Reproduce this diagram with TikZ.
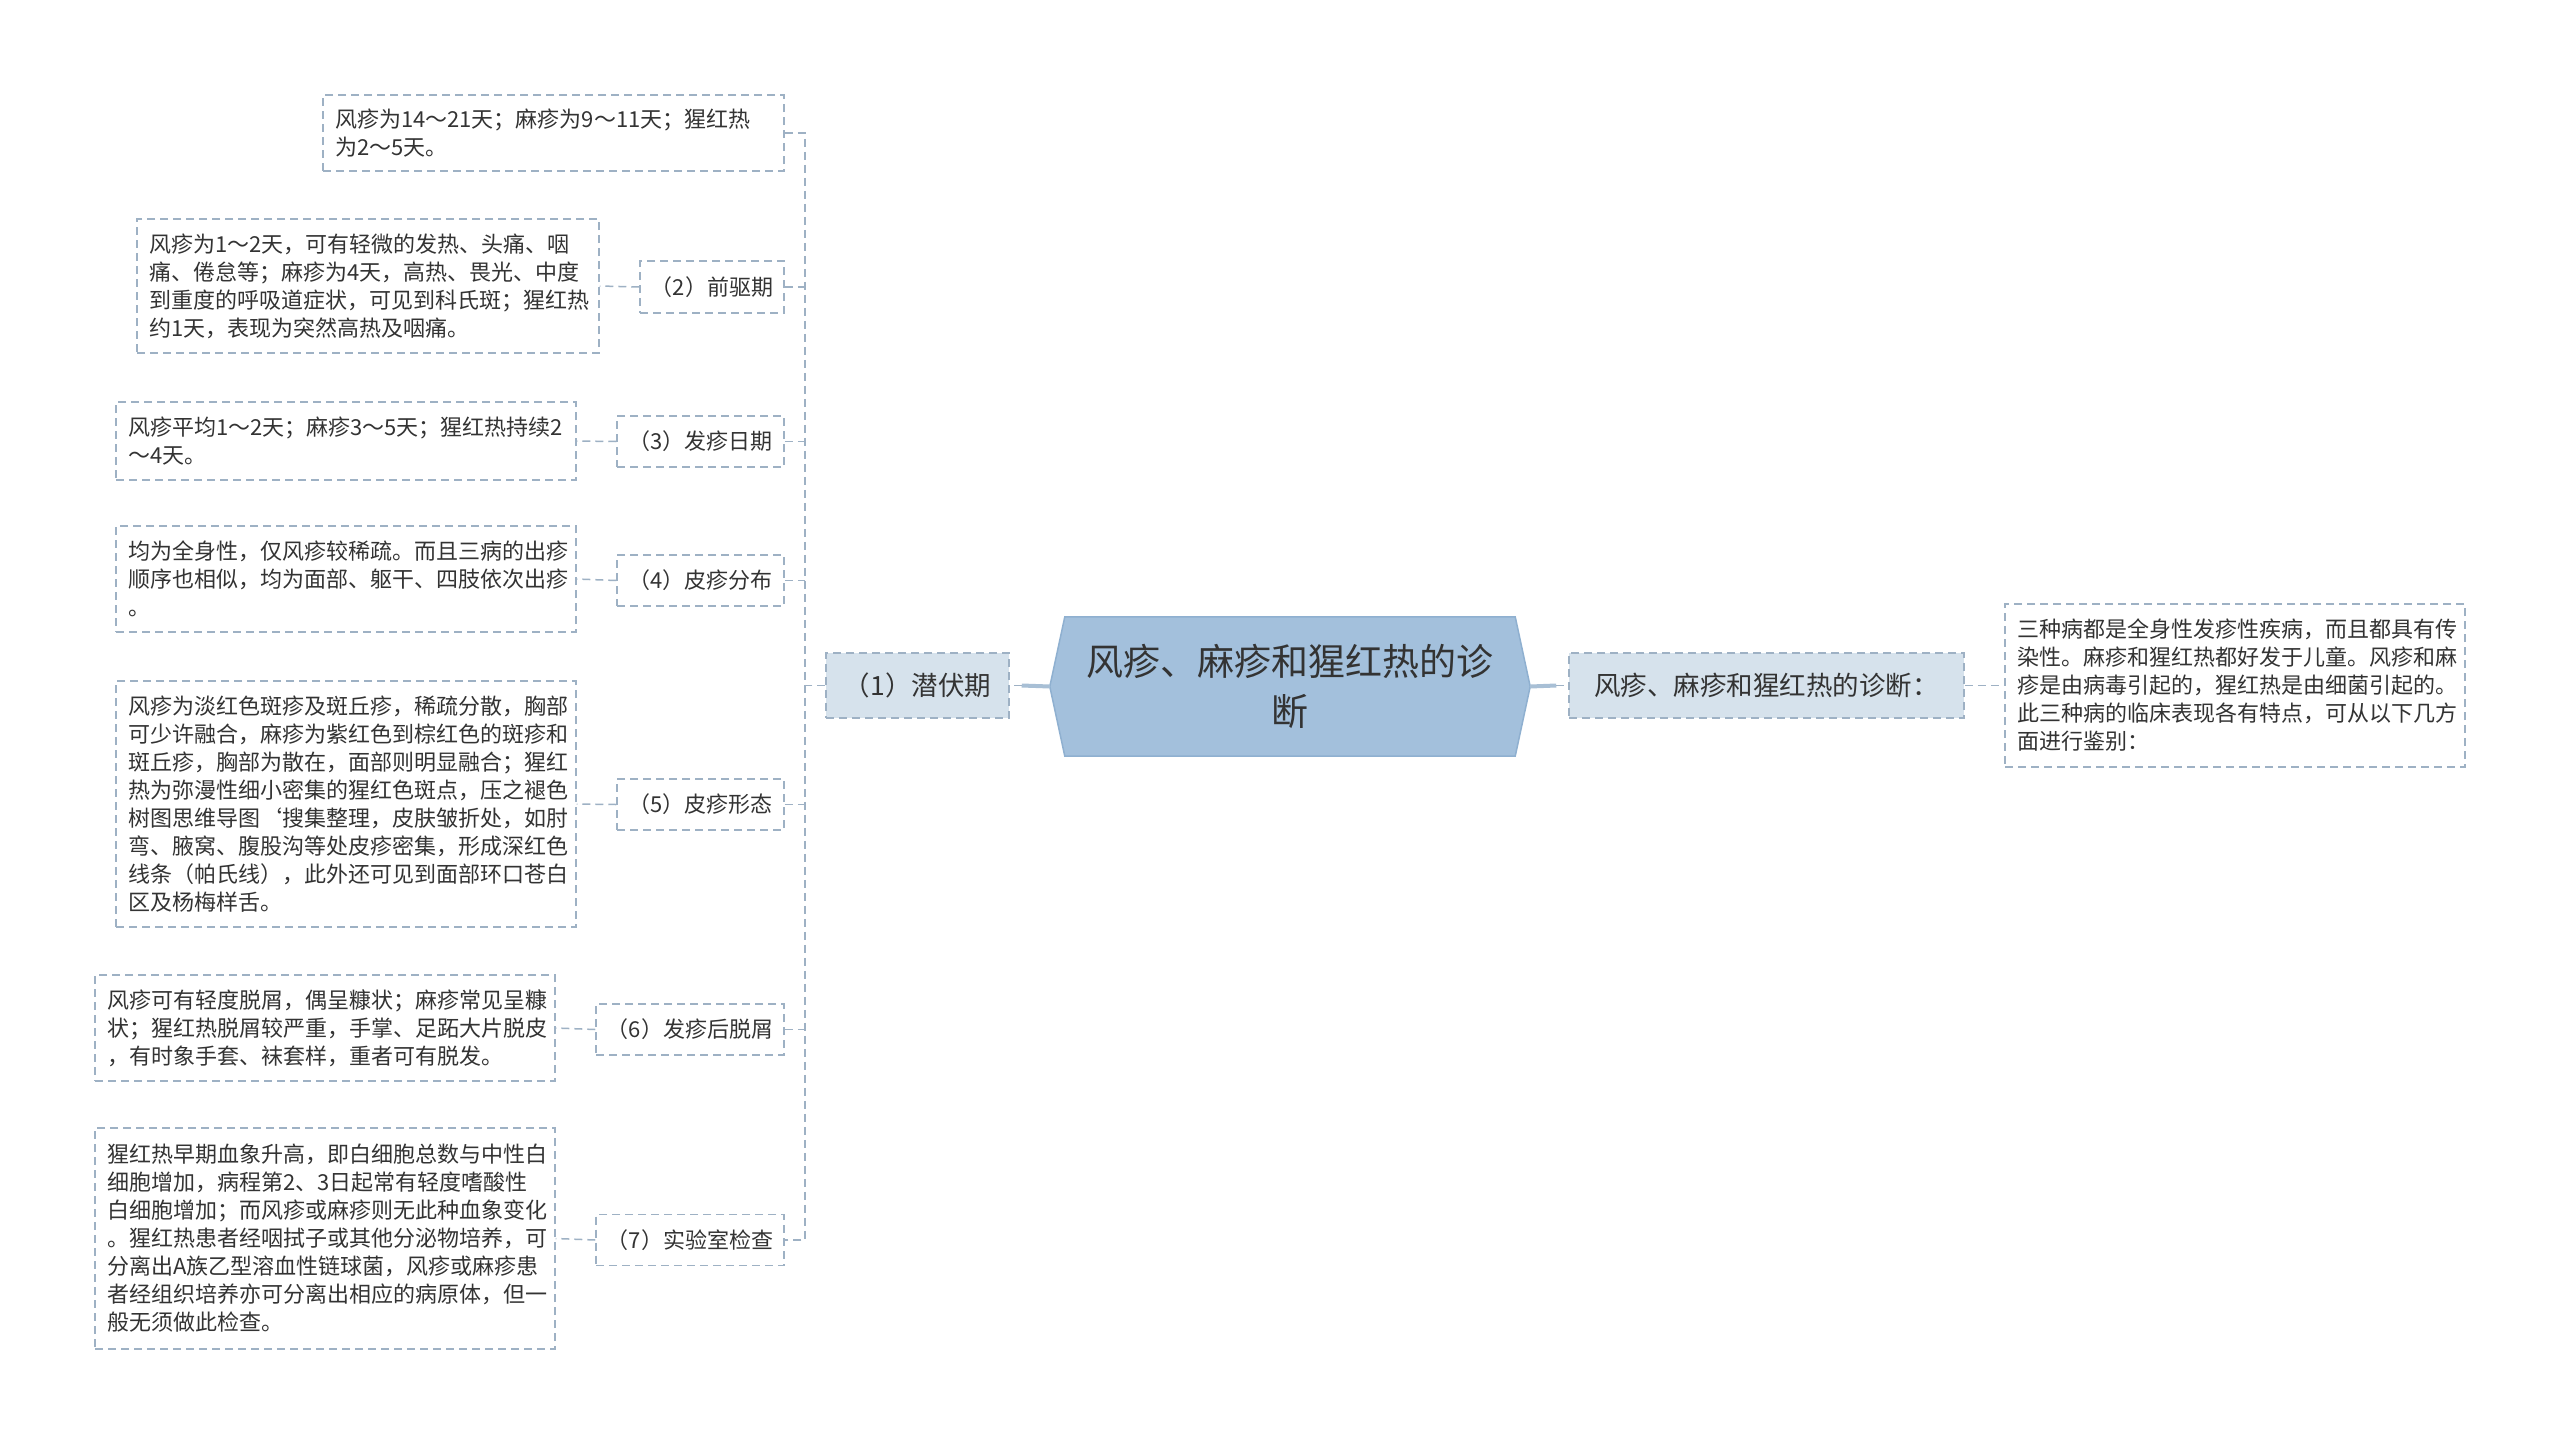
\documentclass[tikz,border=0pt]{standalone}
\usepackage{fontspec}
\setmainfont{Noto Sans CJK SC}
\usetikzlibrary{backgrounds}
\definecolor{txt}{HTML}{333333}
\definecolor{dashc}{HTML}{9EB1C4}
\definecolor{rootfill}{HTML}{A3C0DC}
\definecolor{rootdraw}{HTML}{8FB0D0}
\definecolor{lvfill}{HTML}{D6E2EC}
\definecolor{thickc}{HTML}{A8BFD5}
\begin{document}
\begin{tikzpicture}[x=1pt,y=-1pt,
  dashln/.style={draw=dashc,line width=1.5pt,dash pattern=on 8pt off 5pt},
  infobox/.style={dashln,text=txt,align=left,inner xsep=12pt,inner ysep=0pt,font=\fontsize{22}{28}\selectfont,anchor=center},
  labelbox/.style={dashln,text=txt,align=center,inner sep=0pt,minimum height=51pt,font=\fontsize{22}{28}\selectfont,anchor=center},
  lvone/.style={dashln,fill=lvfill,text=txt,inner sep=0pt,minimum height=65pt,font=\fontsize{26.5}{32}\selectfont,anchor=center},
  thicklink/.style={draw=thickc,line width=4pt},
  link/.style={dashln}
]
\useasboundingbox (0,0) rectangle (2560,1443);
\begin{scope}[on background layer]
\fill[white] (0,0) rectangle (2560,1443);
\end{scope}

% root
\node[text=txt,align=center,inner sep=0pt,minimum width=480pt,minimum height=139pt,font=\fontsize{37}{50}\selectfont] (root) at (1290,686.5) {风疹、麻疹和猩红热的诊\\断};
\begin{scope}[on background layer]
\filldraw[fill=rootfill,draw=rootdraw,line width=1.5pt] ([xshift=15pt]root.north west) -- ([xshift=-15pt]root.north east) -- (root.east) -- ([xshift=-15pt]root.south east) -- ([xshift=15pt]root.south west) -- (root.west) -- cycle;
\end{scope}

% level one
\node[lvone,minimum width=183pt] (n1) at (917.5,685.5) {（1）潜伏期};
\node[lvone,minimum width=395pt] (r1) at (1766.5,685.5) {风疹、麻疹和猩红热的诊断：};

% right info
\node[infobox,text width=436pt,minimum height=163pt] (rb) at (2235,685.5) {三种病都是全身性发疹性疾病，而且都具有传\\染性。麻疹和猩红热都好发于儿童。风疹和麻\\疹是由病毒引起的，猩红热是由细菌引起的。\\此三种病的临床表现各有特点，可从以下几方\\面进行鉴别：};

% left info boxes
\node[infobox,text width=437pt,minimum height=76pt] (a1) at (553.5,133) {风疹为14～21天；麻疹为9～11天；猩红热\\为2～5天。};
\node[infobox,text width=438pt,minimum height=134pt] (b2) at (368,286) {风疹为1～2天，可有轻微的发热、头痛、咽\\痛、倦怠等；麻疹为4天，高热、畏光、中度\\到重度的呼吸道症状，可见到科氏斑；猩红热\\约1天，表现为突然高热及咽痛。};
\node[infobox,text width=436pt,minimum height=78pt] (b3) at (346,441) {风疹平均1～2天；麻疹3～5天；猩红热持续2\\～4天。};
\node[infobox,text width=436pt,minimum height=106pt] (b4) at (346,579) {均为全身性，仅风疹较稀疏。而且三病的出疹\\顺序也相似，均为面部、躯干、四肢依次出疹\\。};
\node[infobox,text width=436pt,minimum height=246pt] (b5) at (346,804) {风疹为淡红色斑疹及斑丘疹，稀疏分散，胸部\\可少许融合，麻疹为紫红色到棕红色的斑疹和\\斑丘疹，胸部为散在，面部则明显融合；猩红\\热为弥漫性细小密集的猩红色斑点，压之褪色\\树图思维导图`搜集整理，皮肤皱折处，如肘\\弯、腋窝、腹股沟等处皮疹密集，形成深红色\\线条（帕氏线），此外还可见到面部环口苍白\\区及杨梅样舌。};
\node[infobox,text width=436pt,minimum height=106pt] (b6) at (325,1028) {风疹可有轻度脱屑，偶呈糠状；麻疹常见呈糠\\状；猩红热脱屑较严重，手掌、足跖大片脱皮\\，有时象手套、袜套样，重者可有脱发。};
\node[infobox,text width=436pt,minimum height=221pt] (b7) at (325,1238.5) {猩红热早期血象升高，即白细胞总数与中性白\\细胞增加，病程第2、3日起常有轻度嗜酸性\\白细胞增加；而风疹或麻疹则无此种血象变化\\。猩红热患者经咽拭子或其他分泌物培养，可\\分离出A族乙型溶血性链球菌，风疹或麻疹患\\者经组织培养亦可分离出相应的病原体，但一\\般无须做此检查。};

% label nodes
\node[labelbox,minimum width=144pt,minimum height=52pt] (n2) at (712,287) {（2）前驱期};
\node[labelbox,minimum width=167pt] (n3) at (700.5,441.5) {（3）发疹日期};
\node[labelbox,minimum width=167pt] (n4) at (700.5,580.5) {（4）皮疹分布};
\node[labelbox,minimum width=167pt] (n5) at (700.5,804.5) {（5）皮疹形态};
\node[labelbox,minimum width=188pt] (n6) at (690,1029.5) {（6）发疹后脱屑};
\node[labelbox,minimum width=188pt] (n7) at (690,1240) {（7）实验室检查};

% connectors
\draw[thicklink] (root.west) -- ([xshift=12pt]n1.east);
\draw[link] ([xshift=12pt]n1.east) -- (n1.east);
\draw[thicklink] (root.east) -- ([xshift=-12pt]r1.west);
\draw[link] ([xshift=-12pt]r1.west) -- (r1.west);
\draw[link] (r1.east) -- (rb.west);

\coordinate (spT) at (805,133);
\coordinate (spB) at (805,1240);
\draw[link] (a1.east) -- (spT) -- (spB) -- (n7.east);
\draw[link] (n1.west) -- (n1.west -| spT);
\foreach \k in {2,...,6} {\draw[link] (n\k.east) -- (n\k.east -| spT);}
\foreach \k in {2,...,7} {\draw[link] (n\k.west) -- (b\k.east);}
\end{tikzpicture}
\end{document}
